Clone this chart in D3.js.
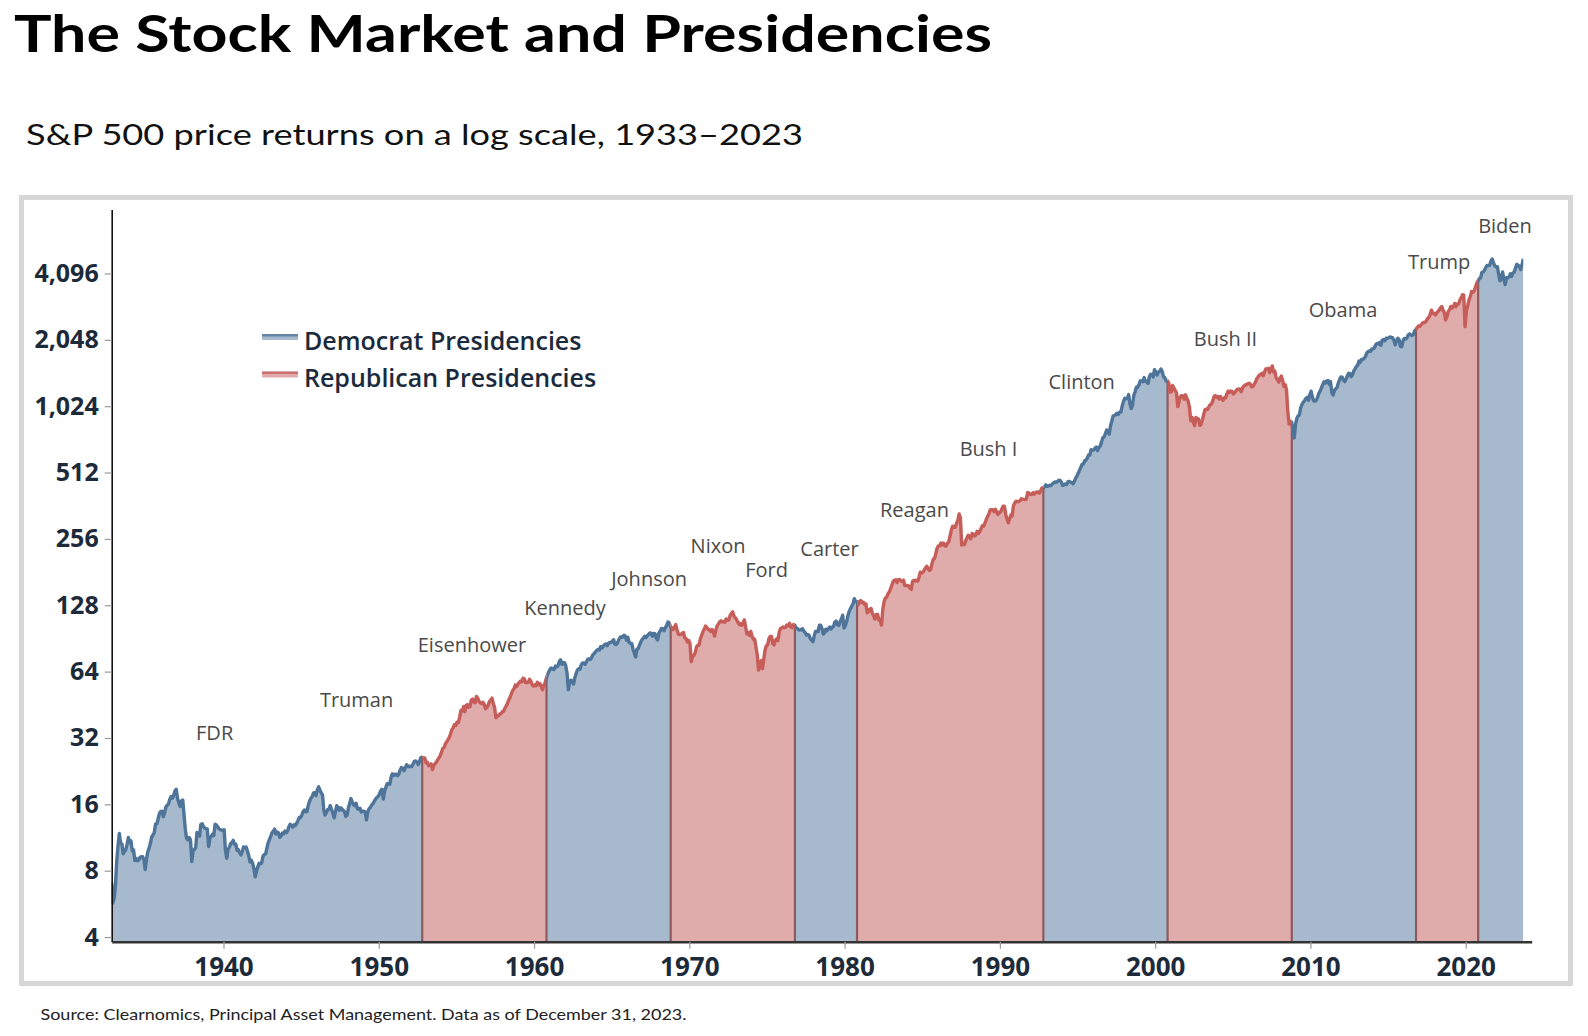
<!DOCTYPE html>
<html><head><meta charset="utf-8">
<script src="https://cdn.jsdelivr.net/npm/d3@7"></script>
<style>
html,body{margin:0;padding:0;background:#fff;}
svg{display:block;}
</style></head>
<body><svg id="chart" width="1588" height="1036"></svg>
<script>
// ---------------- DATA ----------------
const firstYear = 1933;
// S&P 500 level, one value per month, Jan 1933 .. Dec 2023
const monthlyLevel = [
7.09,5.70,6.00,6.89,8.87,10.39,11.80,10.67,10.58,9.55,9.78,9.97,
10.54,11.32,10.74,10.92,9.81,9.94,8.90,9.10,8.88,8.95,9.20,9.26,
9.26,8.98,8.10,9.04,9.75,10.12,10.65,11.37,11.61,11.92,13.04,13.04,
13.76,14.55,14.86,14.88,14.09,14.69,15.56,15.87,16.05,16.89,17.36,17.06,
17.59,18.40,18.70,17.01,16.25,15.64,16.57,16.74,14.37,12.28,11.20,11.02,
11.31,11.04,8.80,9.89,9.98,10.21,11.92,11.68,11.47,12.97,13.07,12.69,
12.50,12.41,12.35,10.30,11.23,11.43,11.71,11.54,13.00,12.90,12.67,12.37,
12.30,12.22,12.15,12.27,9.90,9.10,9.99,10.20,10.63,10.73,10.98,10.53,
10.55,9.89,9.95,9.64,9.43,9.76,10.26,10.21,10.24,9.83,9.37,8.76,
8.93,8.65,8.18,7.50,7.93,8.33,8.64,8.59,8.68,9.32,9.47,9.52,
10.09,10.69,11.07,11.44,11.89,12.10,12.35,11.74,11.99,11.88,11.33,11.48,
11.85,11.77,12.10,11.89,12.10,12.67,13.00,12.81,12.60,12.91,12.82,13.10,
13.49,13.94,13.93,14.28,14.82,15.09,14.78,14.83,15.84,16.50,17.04,17.33,
18.02,18.07,17.53,18.66,19.20,18.58,18.05,17.70,15.09,14.30,14.69,15.13,
15.21,15.80,15.16,14.60,13.90,14.84,15.77,15.46,15.06,15.45,15.27,15.03,
14.83,14.10,14.30,15.40,16.15,17.00,16.42,15.94,15.76,16.19,15.29,15.19,
15.36,14.77,14.91,14.89,14.78,13.60,14.78,15.29,15.49,15.89,16.11,16.54,
16.88,17.21,17.35,17.84,18.44,18.74,16.90,18.43,19.08,19.87,19.83,19.75,
21.21,22.00,21.63,21.92,21.93,21.55,21.93,22.89,23.48,23.36,22.71,23.41,
24.19,23.75,23.81,23.74,23.73,24.38,25.08,25.18,24.78,24.26,25.03,26.04,
26.18,25.86,25.99,24.71,24.84,23.95,24.29,24.39,23.00,23.97,24.50,24.83,
25.46,26.02,26.57,27.63,28.73,28.96,30.13,30.73,31.45,32.18,33.44,34.97,
35.60,36.79,36.50,37.76,37.60,39.78,42.69,42.43,44.34,42.11,44.95,45.37,
44.15,44.43,47.49,48.05,46.54,46.27,49.40,48.49,46.84,46.24,45.76,46.44,
45.43,43.47,44.03,45.05,46.78,47.55,48.51,45.84,43.98,39.50,40.35,40.33,
41.12,41.26,42.11,42.34,43.70,44.75,45.98,47.70,48.96,50.95,52.50,53.49,
55.62,54.77,56.15,57.10,57.96,57.46,59.74,59.40,57.05,57.00,57.23,59.06,
58.03,55.78,55.02,55.73,55.22,57.26,55.84,56.51,54.81,53.00,55.47,56.80,
59.72,62.17,64.12,65.83,66.50,65.62,65.44,67.79,67.26,68.00,71.08,72.40,
69.07,70.22,70.29,68.05,62.99,53.00,56.97,58.52,58.00,56.17,60.04,62.64,
65.06,65.92,65.67,68.76,70.14,70.11,69.07,70.98,72.85,73.03,72.62,74.17,
76.45,77.39,78.80,79.94,80.72,80.24,83.22,82.00,83.41,84.85,85.44,83.96,
86.12,86.75,86.83,87.97,89.28,85.04,84.91,86.49,89.38,91.39,92.15,91.73,
93.60,92.69,88.88,91.60,86.78,86.06,85.84,80.65,77.81,74.50,80.99,81.33,
84.45,87.36,89.42,90.96,92.59,91.43,93.01,94.49,95.81,95.66,92.66,95.30,
95.04,90.75,89.09,95.67,97.87,100.53,100.30,98.11,101.34,103.76,107.50,106.48,
102.04,101.46,99.30,101.26,104.62,99.14,94.71,94.18,94.51,95.52,96.21,91.11,
90.31,87.16,88.65,85.95,71.00,75.59,75.72,77.92,82.58,84.37,84.28,90.05,
93.49,97.11,99.60,103.04,101.64,99.72,99.00,97.24,99.40,97.29,92.78,99.17,
103.30,105.24,107.69,108.81,107.65,108.01,107.21,111.01,109.39,109.56,115.05,117.50,
119.50,114.16,112.42,110.27,107.22,104.75,105.83,103.80,105.61,109.84,102.03,94.78,
96.11,93.45,97.44,92.46,89.67,89.79,82.82,76.03,65.00,69.44,71.74,66.00,
72.56,80.10,83.78,84.72,90.10,92.40,92.49,85.71,84.67,88.57,90.07,88.70,
96.86,100.64,101.08,101.93,101.16,101.77,104.20,103.29,106.00,101.89,101.19,104.66,
103.81,100.96,100.57,99.05,98.76,99.29,100.18,97.75,96.23,93.74,94.28,93.82,
90.25,88.98,87.50,92.71,97.41,97.66,97.19,103.92,103.86,100.58,94.71,96.11,
99.71,98.23,100.11,102.07,99.73,101.73,102.71,107.36,108.60,104.47,103.66,107.78,
110.87,115.34,101.00,102.97,107.69,114.55,119.83,123.50,126.51,130.22,137.00,133.48,
132.97,128.40,133.19,134.43,131.73,132.28,129.13,129.63,118.27,119.80,122.92,123.79,
117.28,114.50,110.84,116.31,116.35,109.70,109.38,104.00,122.43,132.66,138.10,139.37,
144.27,146.80,151.88,157.71,164.10,166.39,166.96,162.42,167.16,167.65,165.23,164.36,
166.39,157.25,157.44,157.60,156.55,153.12,151.08,164.42,166.11,164.82,166.27,164.48,
171.61,180.88,179.42,180.62,184.90,188.89,192.54,188.31,184.06,186.18,197.45,207.26,
208.19,219.37,232.33,237.97,238.46,245.30,240.18,245.00,238.27,237.36,245.09,248.61,
264.51,280.93,292.47,289.32,289.12,301.38,310.09,332.00,320.00,240.00,245.01,240.96,
250.48,258.13,265.74,262.61,256.20,270.68,269.05,263.73,267.97,277.40,271.02,276.51,
285.41,294.01,292.71,302.25,313.93,323.73,331.93,346.61,347.33,347.40,340.22,348.57,
339.97,330.45,338.47,338.18,350.25,360.39,360.03,330.75,315.41,303.00,315.29,328.75,
325.49,362.26,372.28,379.68,377.99,378.29,380.23,389.40,387.20,386.88,385.92,388.51,
416.08,412.56,407.36,407.41,414.81,408.27,415.05,417.93,418.48,412.50,422.84,435.64,
435.23,441.70,450.16,443.08,445.25,448.06,447.29,454.13,459.24,463.90,462.89,465.95,
472.99,471.58,463.81,447.23,450.90,454.83,451.40,464.24,466.96,463.81,461.01,455.19,
465.25,481.92,493.15,507.91,523.81,539.35,557.37,559.11,578.77,582.92,595.53,614.57,
614.42,649.54,647.07,647.17,661.23,668.50,644.07,662.68,674.88,701.46,735.67,743.25,
766.22,798.39,792.16,763.93,833.09,876.29,925.29,927.74,937.02,951.16,938.92,962.37,
963.36,1023.74,1076.83,1112.20,1108.42,1108.39,1156.58,1050.00,1000.00,1032.47,1144.43,1190.05,
1248.77,1246.58,1281.66,1334.76,1332.07,1322.55,1380.99,1327.49,1318.17,1300.01,1391.00,1428.68,
1425.59,1388.87,1500.00,1461.36,1418.48,1461.96,1473.00,1510.00,1468.05,1390.14,1378.04,1330.93,
1335.63,1305.75,1185.85,1189.84,1270.37,1238.71,1204.45,1178.50,1020.00,1076.59,1129.68,1144.93,
1140.21,1100.67,1153.79,1112.04,1079.27,1014.05,880.00,912.55,867.81,835.00,909.93,899.18,
895.84,837.62,846.62,890.03,935.96,988.00,992.54,989.53,1019.44,1038.73,1049.90,1080.64,
1132.52,1143.36,1123.98,1133.08,1102.78,1132.76,1105.85,1088.94,1117.66,1118.07,1168.94,1199.21,
1181.41,1199.63,1194.90,1164.42,1178.28,1202.26,1222.24,1224.27,1225.91,1191.96,1237.37,1262.07,
1278.72,1276.65,1293.74,1302.18,1290.00,1253.12,1260.24,1287.15,1317.81,1363.38,1388.63,1416.42,
1424.16,1444.79,1406.95,1463.65,1511.14,1514.49,1520.70,1454.62,1497.12,1560.00,1463.39,1479.23,
1378.76,1354.87,1316.94,1370.47,1403.22,1341.25,1257.33,1281.47,1217.01,968.80,850.00,877.56,
865.58,790.00,735.00,848.15,902.41,926.12,935.82,1009.72,1044.55,1067.66,1088.07,1110.38,
1123.58,1089.16,1152.05,1197.32,1125.06,1083.36,1079.80,1087.28,1122.08,1171.58,1198.89,1241.53,
1282.62,1321.12,1304.49,1331.51,1338.31,1287.29,1325.19,1185.31,1150.00,1207.22,1226.41,1243.32,
1300.58,1352.49,1389.24,1386.43,1341.27,1323.48,1359.78,1403.44,1443.42,1437.82,1394.51,1422.29,
1480.40,1512.31,1550.83,1570.70,1639.84,1618.77,1668.68,1670.09,1687.17,1720.03,1783.54,1807.78,
1822.36,1817.04,1863.52,1864.26,1889.77,1947.09,1973.10,1961.53,1993.23,1937.27,2044.57,2054.27,
2028.18,2082.20,2079.99,2094.86,2111.94,2099.29,2094.14,2039.87,1944.41,2024.81,2080.62,2054.08,
1918.60,1904.42,2021.95,2075.54,2065.55,2083.89,2148.90,2177.48,2157.69,2143.02,2164.99,2246.63,
2275.12,2329.91,2366.82,2359.31,2395.35,2433.99,2454.10,2456.22,2492.84,2557.00,2593.61,2664.34,
2789.80,2705.16,2702.77,2653.63,2701.49,2754.35,2793.64,2857.82,2901.50,2785.46,2723.23,2520.00,
2607.39,2754.86,2803.98,2903.80,2854.71,2890.17,2996.11,2897.50,2982.16,2977.68,3104.90,3176.75,
3278.20,3277.31,2350.00,2761.98,2919.62,3104.66,3207.62,3391.71,3365.52,3418.70,3548.99,3695.31,
3793.75,3883.43,3910.51,4141.18,4167.85,4238.49,4363.71,4454.21,4445.54,4460.71,4667.39,4766.00,
4573.82,4435.98,4391.27,4391.30,4040.36,3800.00,3911.73,4158.56,3850.52,3650.00,3917.49,3912.38,
3960.66,4079.68,3968.56,4121.47,4146.17,4345.37,4508.08,4457.36,4409.10,4269.40,4460.06,4769.00
];

const presidentNames = ["FDR","Truman","Eisenhower","Kennedy","Johnson","Nixon","Ford","Carter","Reagan","Bush I","Clinton","Bush II","Obama","Trump","Biden"];
const presidentParty = ["D","D","R","D","D","R","R","D","R","R","D","R","D","R","D"];
const presidentStart = [1933.17,1945.28,1953.05,1961.05,1963.89,1969.05,1974.61,1977.05,1981.05,1989.05,1993.05,2001.05,2009.05,2017.05,2021.05];
// label anchors (axis year, index level)
const labelYear  = [1939.43,1948.57,1956.0,1962.0,1967.41,1971.85,1974.98,1979.03,1984.5,1989.27,1995.27,2004.53,2012.1,2018.29,2022.53];
const labelLevel = [33.9,47.7,85.2,124.7,169.6,238,186.5,230.6,348.5,657,1321,2081,2800,4652,6733];

const yTickValues = [4,8,16,32,64,128,256,512,1024,2048,4096];
const xTickValues = [1940,1950,1960,1970,1980,1990,2000,2010,2020];
const legendLabels = ["Democrat Presidencies","Republican Presidencies"];
const legendParty = ["D","R"];

const titleText = "The Stock Market and Presidencies";
const subtitleText = "S&P 500 price returns on a log scale, 1933\u20132023";
const sourceText = "Source: Clearnomics, Principal Asset Management. Data as of December 31, 2023.";

// ---------------- STYLE ----------------
const fillColor = {D:"#a6b9cd", R:"#dfabab"};
const lineColor = {D:"#4f7499", R:"#c65d59"};
const boundaryColor = "#8f5a5e";
const DATE_SHIFT = -0.25;   // plotted dates sit slightly left of their tick years in the original

// ---------------- CHART ----------------
const svg = d3.select("#chart");

svg.append("text").attr("x",14).attr("y",51.5)
  .attr("font-family","Lato, 'Open Sans', sans-serif").attr("font-weight",700).attr("font-size",51.5)
  .attr("textLength",978).attr("lengthAdjust","spacingAndGlyphs").attr("fill","#000").text(titleText);
svg.append("text").attr("x",26).attr("y",145)
  .attr("font-family","Lato, 'Open Sans', sans-serif").attr("font-weight",400).attr("font-size",28)
  .attr("textLength",777).attr("lengthAdjust","spacingAndGlyphs").attr("fill","#111").text(subtitleText);
svg.append("text").attr("x",40.5).attr("y",1020)
  .attr("font-family","Lato, 'Open Sans', sans-serif").attr("font-weight",400).attr("font-size",16)
  .attr("textLength",646).attr("lengthAdjust","spacingAndGlyphs").attr("fill","#222").text(sourceText);

// frame
svg.append("rect").attr("x",21.5).attr("y",197.5).attr("width",1549).attr("height",786)
  .attr("fill","#fff").attr("stroke","#d6d6d6").attr("stroke-width",5);

const x = d3.scaleLinear().domain([1932.8, 2024.25]).range([111.7, 1531.7]);
const y = d3.scaleLog().base(2).domain([3.81, 7983]).range([941.7, 209.6]);
const X = t => x(t + DATE_SHIFT);
const baseY = y.range()[0];

const data = monthlyLevel.map((v,i) => ({t: firstYear + (i + 0.5)/12, v}));
const tMin = data[0].t, tMax = data[data.length-1].t;

function levelAt(t){
  const i = d3.bisector(d => d.t).left(data, t);
  if (i <= 0) return data[0].v;
  if (i >= data.length) return data[data.length-1].v;
  const a = data[i-1], b = data[i], f = (t - a.t)/(b.t - a.t);
  return Math.exp(Math.log(a.v) + f*(Math.log(b.v) - Math.log(a.v)));
}

// party segments (merge consecutive presidencies of same party)
const segments = [];
presidentStart.forEach((s,i) => {
  const p = presidentParty[i];
  if (segments.length && segments[segments.length-1].party === p) return;
  segments.push({start: segments.length ? s : tMin, party: p});
});
segments.forEach((s,i) => s.end = i < segments.length-1 ? segments[i+1].start : tMax);

const area = d3.area().x(d => X(d.t)).y0(baseY).y1(d => y(d.v));
const line = d3.line().x(d => X(d.t)).y(d => y(d.v));

const defs = svg.append("defs");
segments.forEach((s,i) => {
  defs.append("clipPath").attr("id","seg"+i).append("rect")
    .attr("x", X(s.start)).attr("y", 0).attr("width", X(s.end) - X(s.start)).attr("height", 1036);
  const g = svg.append("g").attr("clip-path","url(#seg"+i+")");
  g.append("path").datum(data).attr("d", area).attr("fill", fillColor[s.party]);
});
// boundary lines
segments.slice(1).forEach(s => {
  svg.append("line").attr("x1",X(s.start)).attr("x2",X(s.start))
    .attr("y1",baseY).attr("y2",y(levelAt(s.start)))
    .attr("stroke",boundaryColor).attr("stroke-width",2.2);
});
segments.forEach((s,i) => {
  svg.append("g").attr("clip-path","url(#seg"+i+")")
    .append("path").datum(data).attr("d", line).attr("fill","none")
    .attr("stroke", lineColor[s.party]).attr("stroke-width",3.4).attr("stroke-linejoin","round");
});

// axes
const yAxis = svg.append("g").attr("transform","translate(111.7,0)")
  .call(d3.axisLeft(y).tickValues(yTickValues).tickFormat(d3.format(",")).tickSize(7).tickSizeOuter(0).tickPadding(6));
yAxis.select(".domain").attr("stroke","#111").attr("stroke-width",1.6);
yAxis.selectAll(".tick line").attr("stroke","#9a9a9a").attr("stroke-width",1.2);
yAxis.selectAll(".tick text").attr("font-family","'Open Sans', sans-serif").attr("font-weight",700)
  .attr("font-size",25).attr("fill","#1d2a3a");

const xAxis = svg.append("g").attr("transform","translate(0,"+baseY+")")
  .call(d3.axisBottom(x).tickValues(xTickValues).tickFormat(d3.format("d")).tickSize(7).tickSizeOuter(0).tickPadding(9));
xAxis.select(".domain").attr("stroke","#333").attr("stroke-width",2.6);
xAxis.selectAll(".tick line").attr("stroke","#9a9a9a").attr("stroke-width",1.2);
xAxis.selectAll(".tick text").attr("font-family","'Open Sans', sans-serif").attr("font-weight",700)
  .attr("font-size",26).attr("fill","#1d2a3a");

// president labels
presidentNames.forEach((n,i) => {
  svg.append("text").attr("x", x(labelYear[i])).attr("y", y(labelLevel[i]))
    .attr("text-anchor","middle").attr("dominant-baseline","central")
    .attr("font-family","'Open Sans', sans-serif").attr("font-size",20).attr("fill","#4a4a4a")
    .text(n);
});

// legend
legendLabels.forEach((lab,i) => {
  const gy = 334 + i*37.5;
  const p = legendParty[i];
  svg.append("rect").attr("x",262).attr("y",gy).attr("width",36).attr("height",6).attr("fill",fillColor[p]);
  svg.append("rect").attr("x",262).attr("y",gy).attr("width",36).attr("height",2.5).attr("fill",lineColor[p]).attr("opacity",0.75);
  svg.append("text").attr("x",304).attr("y",gy+15.5)
    .attr("font-family","'Open Sans', sans-serif").attr("font-weight",600).attr("font-size",25)
    .attr("fill","#1b2a3c").text(lab);
});
</script>
</body></html>
